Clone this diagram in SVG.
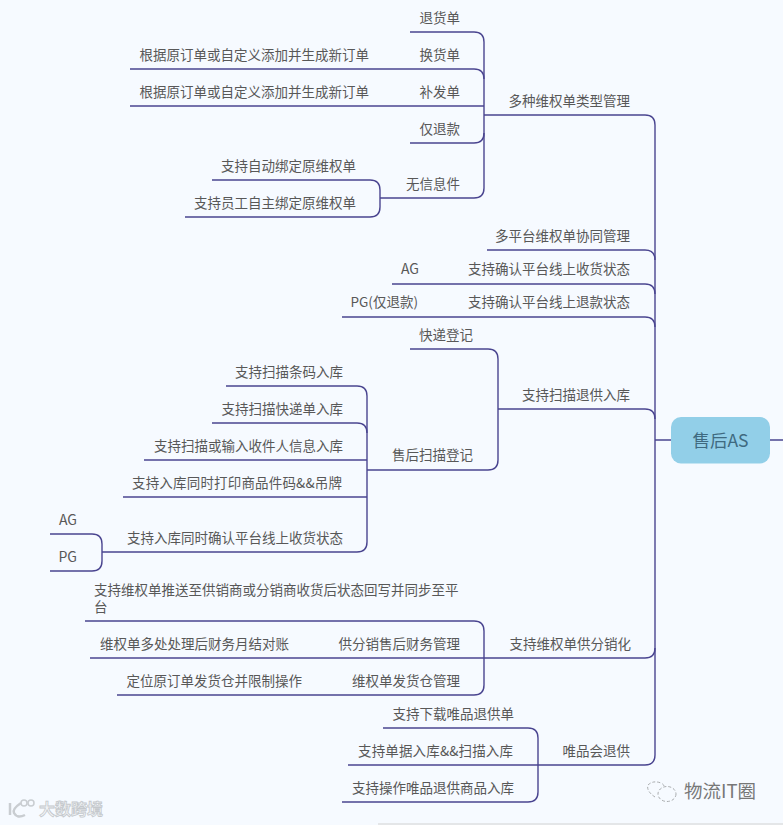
<svg xmlns="http://www.w3.org/2000/svg" width="783" height="825" viewBox="0 0 783 825">
<style>
text{font-family:"Noto Sans CJK SC","Liberation Sans",sans-serif;font-size:13.500px;fill:#585858;text-anchor:start}
.c{fill:none;stroke:#4a4590;stroke-width:1.4}
.r{text-anchor:end}
.l{font-size:14px}
</style>
<rect width="783" height="825" fill="#f6faff"/>
<rect x="378" y="823" width="405" height="2" fill="#e4e6e8"/>
<g id="connectors">
<path class="c" d="M770 440H783M655 440H671"/>
<path class="c" d="M484 115H645Q655 115 655 125V755Q655 765 645 765H538"/>
<path class="c" d="M487 250H645Q655 250 655 260"/>
<path class="c" d="M392 284H645Q655 284 655 294"/>
<path class="c" d="M342 317H645Q655 317 655 327"/>
<path class="c" d="M498 409H645Q655 409 655 419"/>
<path class="c" d="M484 658H645Q655 658 655 648"/>
<path class="c" d="M410 32H474Q484 32 484 42V188Q484 198 474 198H380"/>
<path class="c" d="M130 69H474Q484 69 484 79"/>
<path class="c" d="M130 106H484"/>
<path class="c" d="M410 143H474Q484 143 484 133"/>
<path class="c" d="M212 180H370Q380 180 380 190V207Q380 217 370 217H185"/>
<path class="c" d="M410 349H488Q498 349 498 359V460Q498 470 488 470H367"/>
<path class="c" d="M226 386H357Q367 386 367 396V542Q367 552 357 552H102"/>
<path class="c" d="M212 423H357Q367 423 367 433"/>
<path class="c" d="M144 460H367"/>
<path class="c" d="M123 497H367"/>
<path class="c" d="M50 534H92Q102 534 102 544V561Q102 571 92 571H50"/>
<path class="c" d="M85 621H474Q484 621 484 631V685Q484 695 474 695H117"/>
<path class="c" d="M90 658H484"/>
<path class="c" d="M383 728H528Q538 728 538 738V792Q538 802 528 802H342"/>
<path class="c" d="M348 765H538"/>
</g>
<g id="root"><rect x="671" y="417" width="99" height="46.500" rx="10" fill="#92cfe8"/><text x="720.500" y="447" style="font-size:17.500px;fill:#3f6a80;text-anchor:middle">售后AS</text></g>
<g id="n1"><text x="630" y="106" class="r">多种维权单类型管理</text></g>
<g id="n2"><text x="460" y="23" class="r">退货单</text></g>
<g id="n3"><text x="460" y="60" class="r">换货单</text></g>
<g id="n4"><text x="369" y="60" class="r">根据原订单或自定义添加并生成新订单</text></g>
<g id="n5"><text x="460" y="97" class="r">补发单</text></g>
<g id="n6"><text x="369" y="97" class="r">根据原订单或自定义添加并生成新订单</text></g>
<g id="n7"><text x="460" y="134" class="r">仅退款</text></g>
<g id="n8"><text x="460" y="189" class="r">无信息件</text></g>
<g id="n9"><text x="356" y="171" class="r">支持自动绑定原维权单</text></g>
<g id="n10"><text x="356" y="208" class="r">支持员工自主绑定原维权单</text></g>
<g id="n11"><text x="630" y="241" class="r">多平台维权单协同管理</text></g>
<g id="n12"><text x="630" y="274" class="r">支持确认平台线上收货状态</text></g>
<g id="n13"><text x="419" y="274" class="r l">AG</text></g>
<g id="n14"><text x="630" y="307" class="r">支持确认平台线上退款状态</text></g>
<g id="n15"><text x="418" y="307" class="r">PG(仅退款)</text></g>
<g id="n16"><text x="630" y="400" class="r">支持扫描退供入库</text></g>
<g id="n17"><text x="473" y="340" class="r">快递登记</text></g>
<g id="n18"><text x="473" y="460" class="r">售后扫描登记</text></g>
<g id="n19"><text x="343" y="377" class="r">支持扫描条码入库</text></g>
<g id="n20"><text x="343" y="414" class="r">支持扫描快递单入库</text></g>
<g id="n21"><text x="343" y="451" class="r">支持扫描或输入收件人信息入库</text></g>
<g id="n22"><text x="132" y="488" textLength="210" lengthAdjust="spacing">支持入库同时打印商品件码&amp;&amp;吊牌</text></g>
<g id="n23"><text x="343" y="543" class="r">支持入库同时确认平台线上收货状态</text></g>
<g id="n24"><text x="77" y="525" class="r l">AG</text></g>
<g id="n25"><text x="77" y="562" class="r l">PG</text></g>
<g id="n26"><text x="631" y="649" class="r">支持维权单供分销化</text></g>
<g id="n27"><text x="94" y="595">支持维权单推送至供销商或分销商收货后状态回写并同步至平<tspan x="94" dy="17">台</tspan></text></g>
<g id="n28"><text x="460" y="649" class="r">供分销售后财务管理</text></g>
<g id="n29"><text x="289" y="649" class="r">维权单多处处理后财务月结对账</text></g>
<g id="n30"><text x="460" y="686" class="r">维权单发货仓管理</text></g>
<g id="n31"><text x="302" y="686" class="r">定位原订单发货仓并限制操作</text></g>
<g id="n32"><text x="630" y="756" class="r">唯品会退供</text></g>
<g id="n33"><text x="514" y="719" class="r">支持下载唯品退供单</text></g>
<g id="n34"><text x="358" y="756" textLength="155" lengthAdjust="spacing">支持单据入库&amp;&amp;扫描入库</text></g>
<g id="n35"><text x="514" y="793" class="r">支持操作唯品退供商品入库</text></g>
<g id="mark1" fill="none" stroke="#c9cdd1" stroke-width="2.500">
<path d="M10 803V815M21 803Q12 809 14 813Q17 819 25 815"/>
<circle cx="24" cy="803" r="3" stroke-width="1.500"/><circle cx="31" cy="803" r="3" stroke-width="1.500"/>
<text x="39" y="815" style="font-size:16px;fill:#f2f4f6;stroke:#c4c8cc;stroke-width:.8;font-weight:700">大数跨境</text>
</g>
<g id="mark2" fill="none" stroke="#a9acae" stroke-width="1" stroke-dasharray="3 2">
<path d="M655 797Q646 791 648 785Q653 780 661 783Q665 785 664 788"/>
<ellipse cx="667" cy="794" rx="9" ry="7.500"/>
<text x="684" y="798" style="font-size:18.500px;fill:#777;stroke:none" stroke-dasharray="none">物流IT圈</text>
</g>
</svg>
